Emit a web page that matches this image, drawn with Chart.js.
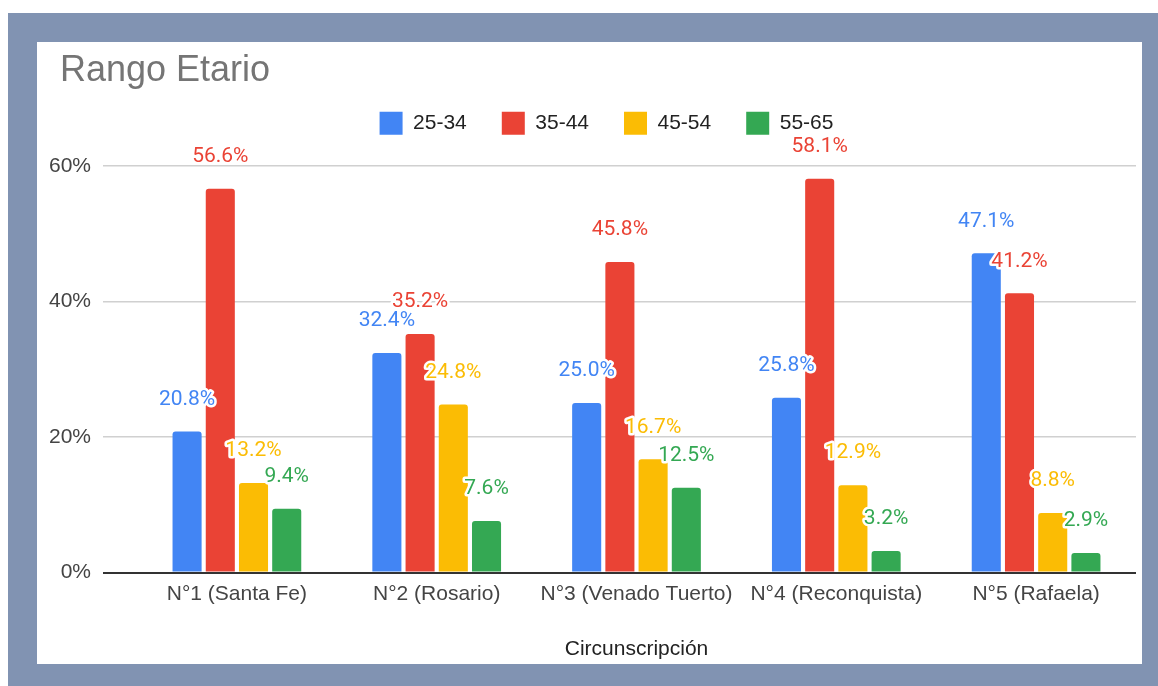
<!DOCTYPE html>
<html lang="es">
<head>
    <meta charset="utf-8" />
    <title>Rango Etario</title>
    <script src="https://cdn.jsdelivr.net/npm/chart.js@4.4.1/dist/chart.umd.min.js"></script>
    <style>
        body { margin: 0; background: #fff; }
        #frame { position: absolute; left: 8px; top: 13px; width: 1150px; height: 673px; background: #8193b2; }
        #box { position: absolute; left: 29px; top: 29px; width: 1105px; height: 622px; background: #fff; }
    </style>
    <script type="text/javascript">
    // valores (%)
    var circunscripciones = ["N°1 (Santa Fe)", "N°2 (Rosario)", "N°3 (Venado Tuerto)", "N°4 (Reconquista)", "N°5 (Rafaela)"];
    var rangos = ["25-34", "35-44", "45-54", "55-65"];
    var r25_34 = [20.8, 32.4, 25.0, 25.8, 47.1];
    var r35_44 = [56.6, 35.2, 45.8, 58.1, 41.2];
    var r45_54 = [13.2, 24.8, 16.7, 12.9, 8.8];
    var r55_65 = [9.4, 7.6, 12.5, 3.2, 2.9];
    var colores = ["#4285f4", "#ea4335", "#fbbc04", "#34a853"];
    var yTicks = [0, 20, 40, 60];

    var sans = "'Liberation Sans', Arial, sans-serif";

    // etiquetas de valor sobre cada barra, con contorno blanco
    var valueLabels = {
        id: 'valueLabels',
        afterDatasetsDraw: function (chart) {
            var ctx = chart.ctx;
            ctx.save();
            ctx.font = "21px Roboto";
            ctx.textAlign = "center";
            ctx.textBaseline = "middle";
            ctx.lineJoin = "round";
            chart.data.datasets.forEach(function (ds, i) {
                var meta = chart.getDatasetMeta(i);
                meta.data.forEach(function (bar, j) {
                    var txt = ds.data[j].toFixed(1) + "%";
                    ctx.strokeStyle = "#fff";
                    ctx.lineWidth = 5;
                    ctx.strokeText(txt, bar.x, bar.y - 32);
                    ctx.fillStyle = ds.backgroundColor;
                    ctx.fillText(txt, bar.x, bar.y - 32);
                });
            });
            ctx.restore();
        }
    };

    // deja más aire debajo de la leyenda y corre título y leyenda a la derecha
    var blockTweaks = {
        id: 'blockTweaks',
        beforeInit: function (chart) {
            var fit = chart.legend.fit;
            chart.legend.fit = function () {
                fit.bind(chart.legend)();
                this.height += 21;
            };
        },
        afterLayout: function (chart) {
            if (chart.titleBlock) {
                chart.titleBlock.left += 13;
                chart.titleBlock.right += 13;
            }
            chart.legend.left += 15;
            chart.legend.right += 15;
        }
    };

    window.onload = function () {
        var series = [r25_34, r35_44, r45_54, r55_65];
        new Chart(document.getElementById("chart"), {
            type: 'bar',
            data: {
                labels: circunscripciones,
                datasets: series.map(function (d, i) {
                    return {
                        label: rangos[i],
                        data: d,
                        backgroundColor: colores[i],
                        borderRadius: 3,
                        categoryPercentage: 0.665,
                        barPercentage: 0.875
                    };
                })
            },
            options: {
                responsive: true,
                maintainAspectRatio: false,
                animation: false,
                layout: { padding: { left: 10, right: 6, top: 0, bottom: 0 } },
                plugins: {
                    tooltip: { enabled: false },
                    title: {
                        display: true,
                        text: 'Rango Etario',
                        align: 'start',
                        color: '#757575',
                        font: { family: sans, size: 36, weight: 'normal', lineHeight: 0.3 },
                        padding: { top: 24, bottom: 0 }
                    },
                    legend: {
                        position: 'top',
                        labels: {
                            boxWidth: 23,
                            boxHeight: 23,
                            padding: 35,
                            color: '#222',
                            font: { family: sans, size: 21 }
                        }
                    }
                },
                scales: {
                    x: {
                        grid: { display: false },
                        border: { display: false },
                        ticks: { color: '#444', padding: 1, font: { family: sans, size: 21 } },
                        title: {
                            display: true,
                            text: 'Circunscripción',
                            color: '#222',
                            font: { family: sans, size: 21 },
                            padding: { top: 29, bottom: 2 }
                        }
                    },
                    y: {
                        min: 0,
                        max: 60,
                        afterFit: function (scale) { scale.width = 90; },
                        afterBuildTicks: function (scale) {
                            scale.ticks = yTicks.map(function (v) { return { value: v }; });
                        },
                        border: { display: false },
                        grid: {
                            drawTicks: true,
                            tickLength: 34,
                            color: function (c) { return c.tick && c.tick.value === 0 ? '#333' : '#d0d0d0'; },
                            lineWidth: function (c) { return c.tick && c.tick.value === 0 ? 2 : 1.5; }
                        },
                        ticks: {
                            color: '#444',
                            padding: 12,
                            font: { family: sans, size: 21 },
                            callback: function (v) { return v + '%'; }
                        }
                    }
                }
            },
            plugins: [valueLabels, blockTweaks]
        });
    };
    </script>
</head>
<body>
    <div id="frame"><div id="box"><canvas id="chart"></canvas></div></div>
</body>
</html>
